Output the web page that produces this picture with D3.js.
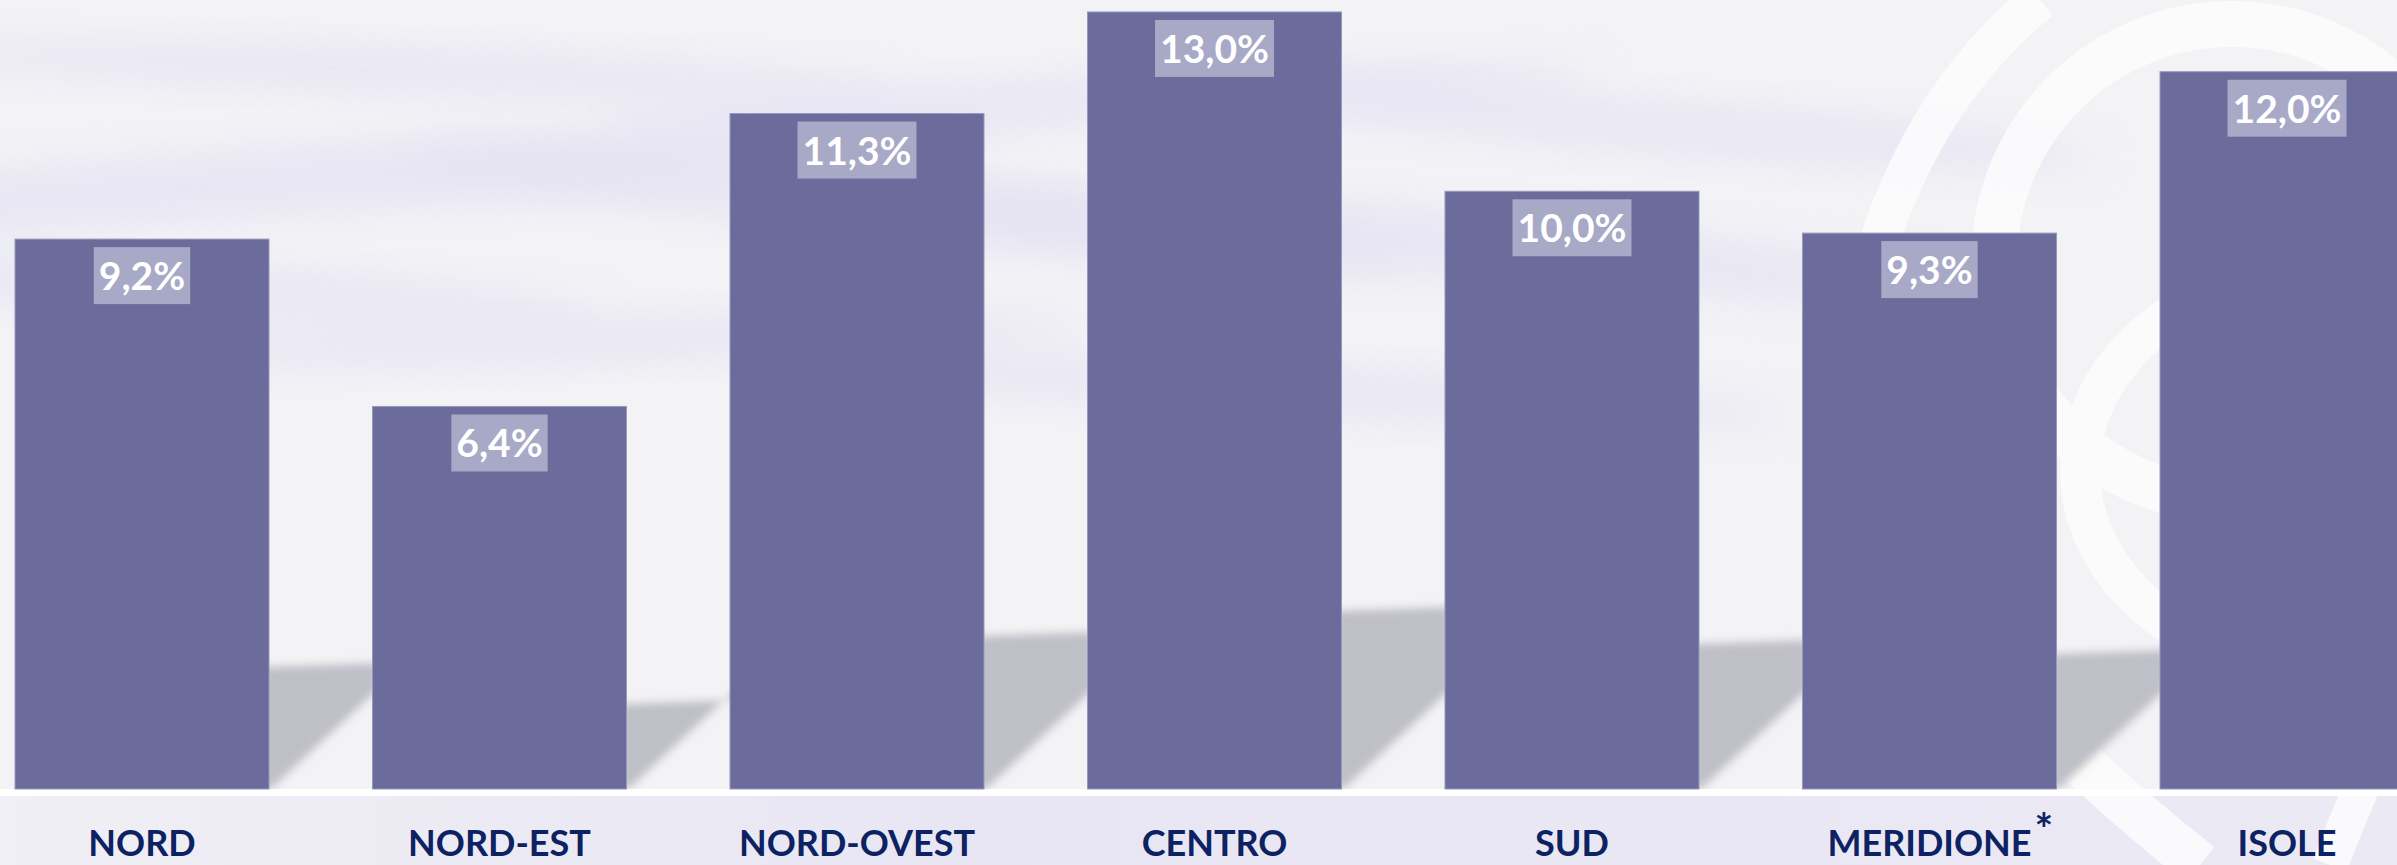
<!DOCTYPE html>
<html>
<head>
<meta charset="utf-8">
<script src="https://cdn.jsdelivr.net/npm/d3@7"></script>
<style>
  html, body { margin: 0; padding: 0; background: #f3f3f6; }
  svg { display: block; }
</style>
</head>
<body>
<script>
    // Data
    var categories = ["NORD", "NORD-EST", "NORD-OVEST", "CENTRO", "SUD", "MERIDIONE", "ISOLE"];
    var values = [9.2, 6.4, 11.3, 13.0, 10.0, 9.3, 12.0];
    var valueLabels = ["9,2%", "6,4%", "11,3%", "13,0%", "10,0%", "9,3%", "12,0%"];
    var footnoteMark = {MERIDIONE: "*"};

    function init() {
        var w = 2397;
        var h = 865;
        var baseY = 789;

        var svg = d3.select("body")
                    .append("svg")
                    .attr("width", w)
                    .attr("height", h);

        var defs = svg.append("defs");
        defs.append("filter").attr("id", "blur").attr("x", "-20%").attr("y", "-50%")
            .attr("width", "140%").attr("height", "200%")
            .append("feGaussianBlur").attr("stdDeviation", 20);
        defs.append("filter").attr("id", "blurSmall")
            .append("feGaussianBlur").attr("stdDeviation", 4);

        var bottomGrad = defs.append("linearGradient").attr("id", "bottomGrad")
            .attr("x1", 0).attr("x2", 1).attr("y1", 0).attr("y2", 0);
        bottomGrad.append("stop").attr("offset", "0%").attr("stop-color", "#f0eff5");
        bottomGrad.append("stop").attr("offset", "40%").attr("stop-color", "#e8e6f3");
        bottomGrad.append("stop").attr("offset", "100%").attr("stop-color", "#ebe9f4");

        // Background: soft lavender waves
        var bg = svg.append("g");
        bg.append("rect").attr("width", w).attr("height", h).attr("fill", "#f3f3f6");
        var waves = [
            [300, 180, 700, 34, -4], [900, 210, 500, 28, 6], [200, 290, 400, 24, 3],
            [1400, 240, 600, 34, 5], [600, 340, 500, 22, -2], [1100, 100, 500, 24, -3],
            [1700, 130, 400, 26, 4], [400, 70, 500, 22, 2], [1300, 390, 500, 24, 3]
        ];
        bg.selectAll("ellipse.wave").data(waves).enter().append("ellipse")
            .attr("class", "wave")
            .attr("cx", function(d) { return d[0]; })
            .attr("cy", function(d) { return d[1]; })
            .attr("rx", function(d) { return d[2]; })
            .attr("ry", function(d) { return d[3]; })
            .attr("transform", function(d) { return "rotate(" + d[4] + "," + d[0] + "," + d[1] + ")"; })
            .attr("fill", "#e2e0f2")
            .attr("opacity", 0.7)
            .attr("filter", "url(#blur)");

        // Lower band below the bars
        bg.append("rect").attr("x", 0).attr("y", 796).attr("width", w).attr("height", h - 796)
            .attr("fill", "url(#bottomGrad)");

        // White logo rings on the right
        var logo = bg.append("g").attr("fill", "none").attr("stroke", "#fcfcfd").attr("opacity", 0.9);
        logo.append("circle").attr("cx", 2232).attr("cy", 262).attr("r", 238).attr("stroke-width", 46);
        logo.append("ellipse").attr("cx", 2330).attr("cy", 470).attr("rx", 250).attr("ry", 200)
            .attr("stroke-width", 40);
        logo.append("path").attr("d", "M1880,240 Q1930,90 2040,0").attr("stroke-width", 40);
        logo.append("path").attr("d", "M1880,520 Q1990,700 2200,865").attr("stroke-width", 46);
        logo.append("path").attr("d", "M2330,865 Q2370,760 2397,720").attr("stroke-width", 36);

        // X scale & Y scale
        var xScale = d3.scaleBand()
            .domain(categories)
            .range([15, 2414])
            .paddingInner(0.2895)
            .paddingOuter(0);

        var yScale = d3.scaleLinear()
            .domain([0, 13.2])
            .range([baseY, 0]);

        // Grey shadow band seen in the gaps between bars
        var gapTops = [663, 700, 632, 607, 640, 650];
        var shadow = bg.append("g").attr("filter", "url(#blurSmall)");
        shadow.selectAll("path").data(gapTops).enter().append("path")
            .attr("d", function(t, i) {
                var x0 = xScale(categories[i]) + xScale.bandwidth() - 6;
                var x1 = xScale(categories[i + 1]) + 6;
                return "M" + x0 + "," + (t + 4) + "L" + x1 + "," + t +
                       "L" + x1 + "," + (baseY - 100) + "L" + (x0 + 8) + "," + baseY +
                       "L" + x0 + "," + baseY + "Z";
            })
            .attr("fill", "#bfbfc7");

        // white rule under bars
        svg.append("rect").attr("x", 0).attr("y", baseY).attr("width", w).attr("height", 7)
            .attr("fill", "#ffffff");

        // Bars
        var bars = svg.append("g");
        bars.selectAll("rect")
            .data(values)
            .enter()
            .append("rect")
            .attr("x", function(d, i) { return xScale(categories[i]); })
            .attr("y", function(d) { return yScale(d); })
            .attr("width", xScale.bandwidth())
            .attr("height", function(d) { return baseY - yScale(d); })
            .attr("fill", "#6c6c9c")
            .attr("stroke", "#9797c0")
            .attr("stroke-width", 1);

        // Value labels with box
        var lbl = svg.append("g")
            .selectAll("g")
            .data(values)
            .enter()
            .append("g");

        lbl.append("rect").attr("class", "box").attr("fill", "#a8a8c7");
        lbl.append("text")
            .attr("x", function(d, i) { return xScale(categories[i]) + xScale.bandwidth() / 2; })
            .attr("y", function(d) { return yScale(d) + 8 + 43; })
            .attr("text-anchor", "middle")
            .style("font-family", "Lato, 'Open Sans', sans-serif")
            .style("font-weight", 700)
            .style("font-size", "39px")
            .attr("fill", "#ffffff")
            .text(function(d, i) { return valueLabels[i]; });

        lbl.each(function(d, i) {
            var g = d3.select(this);
            var tw = g.select("text").node().getComputedTextLength();
            var cx = xScale(categories[i]) + xScale.bandwidth() / 2;
            g.select("rect.box")
                .attr("x", cx - tw / 2 - 5)
                .attr("y", yScale(d) + 8)
                .attr("width", tw + 10)
                .attr("height", 57);
        });

        // Category labels
        var cats = svg.append("g")
            .selectAll("text")
            .data(categories)
            .enter()
            .append("text")
            .attr("x", function(d) { return xScale(d) + xScale.bandwidth() / 2; })
            .attr("y", 856)
            .attr("text-anchor", "middle")
            .style("font-family", "Lato, 'Open Sans', sans-serif")
            .style("font-weight", 700)
            .style("font-size", "36px")
            .attr("fill", "#0c2262")
            .text(function(d) { return d; });

        cats.each(function(d) {
            if (!footnoteMark[d]) return;
            var tw = this.getComputedTextLength();
            var cx = xScale(d) + xScale.bandwidth() / 2;
            svg.append("text")
                .attr("x", cx + tw / 2 + 3)
                .attr("y", 845)
                .style("font-family", "Lato, 'Open Sans', sans-serif")
                .style("font-weight", 700)
                .style("font-size", "44px")
                .attr("fill", "#0c2262")
                .text(footnoteMark[d]);
        });
    }

    window.onload = init;
</script>
</body>
</html>
